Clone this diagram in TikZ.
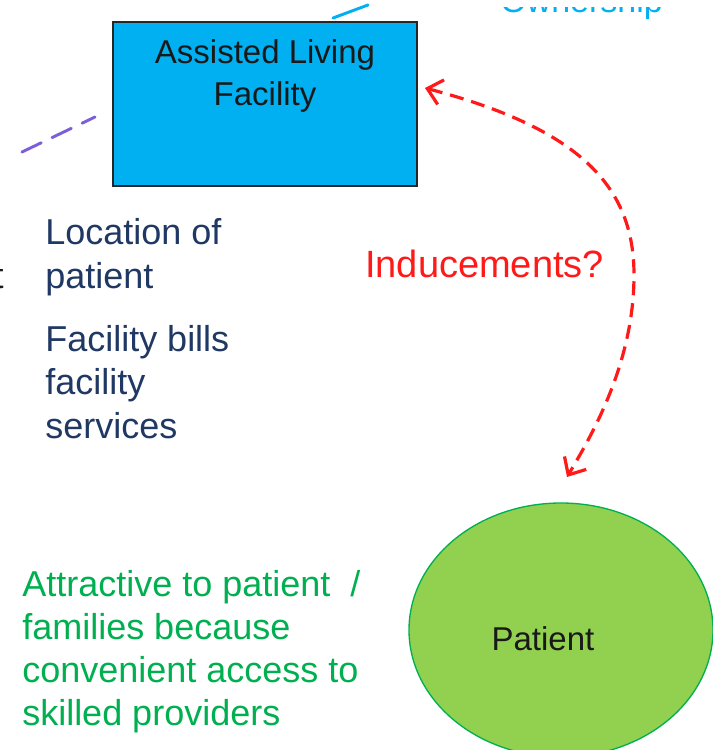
\documentclass[tikz,border=0pt]{standalone}
\usepackage{fontspec}
\setmainfont{Liberation Sans}
\usetikzlibrary{arrows.meta,shapes.geometric}
\definecolor{alfcyan}{HTML}{00B0F0}
\definecolor{navytext}{HTML}{203864}
\definecolor{greentext}{HTML}{00B050}
\definecolor{patfill}{HTML}{92D050}
\definecolor{purpleline}{HTML}{7B5FD8}
\definecolor{redline}{HTML}{FF1A1A}
\tikzset{
  alfbox/.style={draw=black!85, line width=1.5pt, fill=alfcyan, minimum width=228pt, minimum height=123pt, inner sep=0pt},
  boxtext/.style={align=center, font=\fontsize{24.75}{31.5}\selectfont, text=black!90, inner sep=0pt},
  navyblock/.style={align=left, anchor=base west, font=\fontsize{27}{32.5}\selectfont, text=navytext, inner sep=0pt},
  greenblock/.style={align=left, anchor=base west, font=\fontsize{27}{32.25}\selectfont, text=greentext, inner sep=0pt},
  patshape/.style={ellipse, draw=greentext, line width=1pt, fill=patfill, minimum width=228pt, minimum height=190.5pt, inner sep=0pt},
  redarrow/.style={draw=redline, line width=2.4pt, dash pattern=on 10.5pt off 6pt, {Straight Barb[length=10.5pt,width=19pt,line width=2.4pt]}-{Straight Barb[length=10.5pt,width=19pt,line width=2.4pt]}},
}
\begin{document}
\begin{tikzpicture}[x=0.75pt,y=-0.75pt]
\useasboundingbox (0,0) rectangle (713,750);
\clip (0,0) rectangle (713,750);
% partial lines entering from outside
\coordinate (pl1) at (22,152);
\coordinate (pl2) at (95,117);
\draw[purpleline, line width=2.2pt, dash pattern=on 16pt off 9pt, line cap=round] (pl1) -- (pl2);
\coordinate (cl1) at (333,18);
\coordinate (cl2) at (368,5);
\draw[alfcyan, line width=2.2pt, line cap=round] (cl1) -- (cl2);
\begin{scope}
\clip (480,7) rectangle (700,30);
\node[anchor=base west, inner sep=0pt, text=alfcyan, font=\fontsize{25.5}{30}\selectfont] (own) at (500,12) {Ownership};
\end{scope}
\node[anchor=base east, inner sep=0pt, text=black!90, font=\fontsize{27}{32}\selectfont] (cutt) at (4,288) {t};
% facility box
\node[alfbox] (alf) at (265,104) {};
\node[boxtext, anchor=base] (alftext) at (265,105) {Assisted Living\\Facility};
% navy text
\node[navyblock] (loc) at (45,288) {Location of\\patient};
\node[navyblock] (bills) at (45,438) {Facility bills\\facility\\services};
% red inducements
\node[anchor=base west, inner sep=0pt, text=redline, font=\fontsize{28.5}{34}\selectfont] (ind) at (365,277) {Inducements?};
\coordinate (r1) at (425,88);
\coordinate (rm) at (634,275);
\coordinate (r2) at (567,477);
\draw[redarrow] (r1) .. controls (585,130) and (634,190) .. (rm) .. controls (634,360) and (595,430) .. (r2);
% patient
\node[patshape] (pat) at (561,630) {};
\node[anchor=base, inner sep=0pt, font=\fontsize{24.75}{30}\selectfont, text=black!90] (pattext) at (543,650) {Patient};
% green text
\node[greenblock] (attr) at (22,725) {Attractive to patient\ \ /\\families because\\convenient access to\\skilled providers};
\end{tikzpicture}
\end{document}
